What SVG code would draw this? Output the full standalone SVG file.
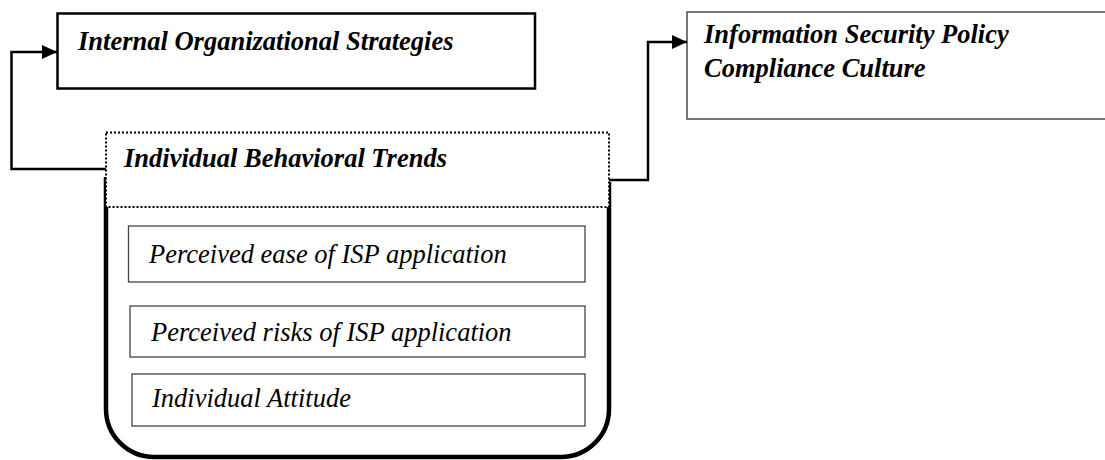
<svg xmlns="http://www.w3.org/2000/svg" width="1105" height="460" viewBox="0 0 1105 460">
  <style>
    text { font-family: 'Liberation Serif', 'DejaVu Serif', serif; font-size: 26.5px; font-style: italic; fill: #000; }
    .b { font-weight: bold; }
    .box { fill: #fff; }
    .wire { fill: none; stroke: #000; stroke-width: 2.5; }
  </style>
  <defs>
    <marker id="arr" markerWidth="16" markerHeight="16" refX="15" refY="7" orient="auto" markerUnits="userSpaceOnUse">
      <path d="M0,0 L15,7 L0,14 Z" fill="#000"/>
    </marker>
  </defs>
  <rect width="1105" height="460" fill="#fff"/>

  <g id="internal-strategies">
    <rect class="box" x="57.5" y="13.5" width="477.5" height="75" stroke="#000" stroke-width="2.5"/>
    <text class="b" x="78" y="50" font-family="Liberation Serif, serif">Internal Organizational Strategies</text>
  </g>

  <g id="isp-compliance-culture">
    <rect class="box" x="687" y="12" width="430" height="107" stroke="#555" stroke-width="1.6"/>
    <text class="b" x="704" y="43" font-family="Liberation Serif, serif">Information Security Policy</text>
    <text class="b" x="704" y="77" font-family="Liberation Serif, serif">Compliance Culture</text>
  </g>

  <g id="individual-behavioral-trends">
    <path d="M106,177 V409 A48,48 0 0 0 154,457 H561 A48,48 0 0 0 609,409 V182" fill="none" stroke="#000" stroke-width="4.5"/>
    <rect x="106" y="132.5" width="503" height="74.5" fill="#fff" stroke="#000" stroke-width="2" stroke-dasharray="2 2"/>
    <text class="b" x="124" y="167" font-family="Liberation Serif, serif">Individual Behavioral Trends</text>
  </g>

  <g id="perceived-ease">
    <rect class="box" x="128.5" y="226" width="456.5" height="56" stroke="#444" stroke-width="1.3"/>
    <text x="149" y="263" font-family="Liberation Serif, serif">Perceived ease of ISP application</text>
  </g>

  <g id="perceived-risks">
    <rect class="box" x="130" y="306" width="455" height="51" stroke="#444" stroke-width="1.3"/>
    <text x="151" y="341" font-family="Liberation Serif, serif">Perceived risks of ISP application</text>
  </g>

  <g id="individual-attitude">
    <rect class="box" x="132" y="374" width="453" height="52" stroke="#444" stroke-width="1.3"/>
    <text x="152" y="407" font-family="Liberation Serif, serif">Individual Attitude</text>
  </g>

  <g id="connectors">
    <path class="wire" d="M106,169 H11.5 V52 H57" marker-end="url(#arr)"/>
    <path class="wire" d="M609,180 H648 V42 H687" marker-end="url(#arr)"/>
  </g>
</svg>
